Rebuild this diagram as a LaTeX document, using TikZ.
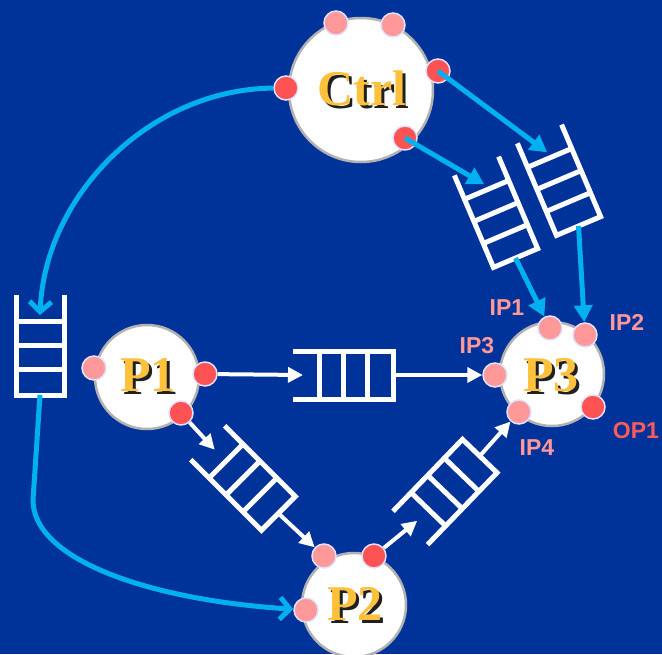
\documentclass[tikz,border=0pt]{standalone}
\usepackage{fontspec}
\setmainfont{Liberation Serif}
\newfontfamily\lblfont{Liberation Sans}
\usetikzlibrary{arrows.meta}
\definecolor{bg}{HTML}{003399}
\definecolor{cyanline}{HTML}{00B0F0}
\definecolor{gold}{HTML}{FFC13B}
\definecolor{portpink}{HTML}{FF9999}
\definecolor{portred}{HTML}{FF5252}
\definecolor{portedge}{HTML}{E0E0FF}
\definecolor{lblpink}{HTML}{FF9999}
\definecolor{lblred}{HTML}{FF5A5A}
\definecolor{shadowcol}{HTML}{202020}
\newcommand\shadowedtext[1]{\makebox[0pt][l]{\hspace{3pt}\raisebox{-3pt}{\textcolor{shadowcol}{#1}}}#1}
\tikzset{
  proc/.style={circle, fill=white, draw=gray!60, line width=2.5pt, inner sep=0pt},
  pink/.style={circle, fill=portpink, draw=portedge, line width=1.5pt, minimum size=24pt, inner sep=0pt},
  red/.style={circle, fill=portred, draw=portedge, line width=1.5pt, minimum size=24pt, inner sep=0pt},
  ptxt/.style={text=gold, font=\fontsize{50}{50}\selectfont\bfseries, inner sep=0pt},
  lbl/.style={font=\lblfont\fontsize{23}{23}\selectfont\bfseries, inner sep=0pt},
  qline/.style={draw=white, line width=5pt, line join=miter},
  warrow/.style={draw=white, line width=4pt, -{Triangle[length=15pt,width=15pt]}},
  carrow/.style={draw=cyanline, line width=5pt, -{Triangle[length=17pt,width=18pt]}},
  cbarb/.style={draw=cyanline, line width=5pt, -{Straight Barb[length=10pt,width=22pt,line width=5pt]}},
  queue/.pic={
    \draw[qline] (-50,-24) -- (50,-24) -- (50,24) -- (-50,24);
    \foreach \q in {-24,0,24} \draw[qline] (\q,-24) -- (\q,24);
    \coordinate (-in) at (-50,0);
    \coordinate (-tip) at (-40,0);
    \coordinate (-tipd) at (-30,0);
    \coordinate (-out) at (50,0);
  }
}
\begin{document}
\begin{tikzpicture}[x=1pt,y=-1pt]
\fill[bg] (0,0) rectangle (662,654);
\useasboundingbox (0,0) rectangle (662,654);

% processes
\node[proc, minimum size=144pt] (ctrl) at (361,90) {};
\node[proc, minimum size=104pt] (p1) at (147,377) {};
\node[proc, minimum size=104pt] (p2) at (354,605) {};
\node[proc, minimum size=104pt] (p3) at (552,374) {};

% texts
\node[ptxt] (tctrl) at (362,90) {\shadowedtext{Ctrl}};
\node[ptxt] (tp1) at (148,376) {\shadowedtext{P1}};
\node[ptxt] (tp2) at (355,605) {\shadowedtext{P2}};
\node[ptxt] (tp3) at (551,377) {\shadowedtext{P3}};

% ports
\node[pink] (ctrlP1) at (336,23) {};
\node[pink] (ctrlP2) at (393,25) {};
\node[red] (ctrlL) at (286,88) {};
\node[red] (ctrlR) at (438,71) {};
\node[red] (ctrlB) at (405,138) {};
\node[pink] (p1l) at (94,368) {};
\node[red] (p1r) at (205,374) {};
\node[red] (p1b) at (181,413) {};
\node[pink] (p2a) at (324,556) {};
\node[red] (p2b) at (374,556) {};
\node[pink] (p2c) at (306,610) {};
\node[pink] (p3a) at (550,328) {};
\node[pink] (p3b) at (585,335) {};
\node[pink] (p3c) at (495,375) {};
\node[pink] (p3d) at (519,412) {};
\node[red] (p3o) at (593,407) {};

% labels
\node[lbl, text=lblpink] (lip1) at (507,308) {IP1};
\node[lbl, text=lblpink] (lip2) at (627,322) {IP2};
\node[lbl, text=lblpink] (lip3) at (477,346) {IP3};
\node[lbl, text=lblpink] (lip4) at (537,448) {IP4};
\node[lbl, text=lblred] (lop1) at (636,431) {OP1};

% queues
\pic[rotate=0] (qh) at (343,375) {queue};
\pic[rotate=-45] (qd1) at (243,478) {queue};
\pic[rotate=46] (qd2) at (445,492) {queue};
\pic[rotate=-67] (qa) at (496,212) {queue};
\pic[rotate=-67] (qb) at (559,180) {queue};
\pic[rotate=-90] (ql) at (40,345) {queue};

% white arrows
\draw[warrow] (p1r) -- (qh-tip);
\draw[warrow] (qh-out) -- (p3c);
\draw[warrow] (p1b) -- (qd1-tip);
\draw[warrow] (qd1-out) -- (p2a);
\draw[warrow] (p2b) -- (qd2-tip);
\draw[warrow] (qd2-out) -- (p3d);

% cyan arrows
\draw[carrow] (ctrlR.center) -- (qb-tipd);
\draw[carrow] (ctrlB.center) -- (qa-tipd);
\draw[carrow] (qa-out) -- (p3a);
\draw[carrow] (qb-out) -- (p3b);
\coordinate (bend) at (33,500);
\draw[cbarb] (ctrlL) .. controls (150,89) and (45,195) .. (ql-tipd);
\draw[cbarb] (ql-out) -- (bend) .. controls (33,560) and (150,600) .. (p2c);
\end{tikzpicture}
\end{document}
